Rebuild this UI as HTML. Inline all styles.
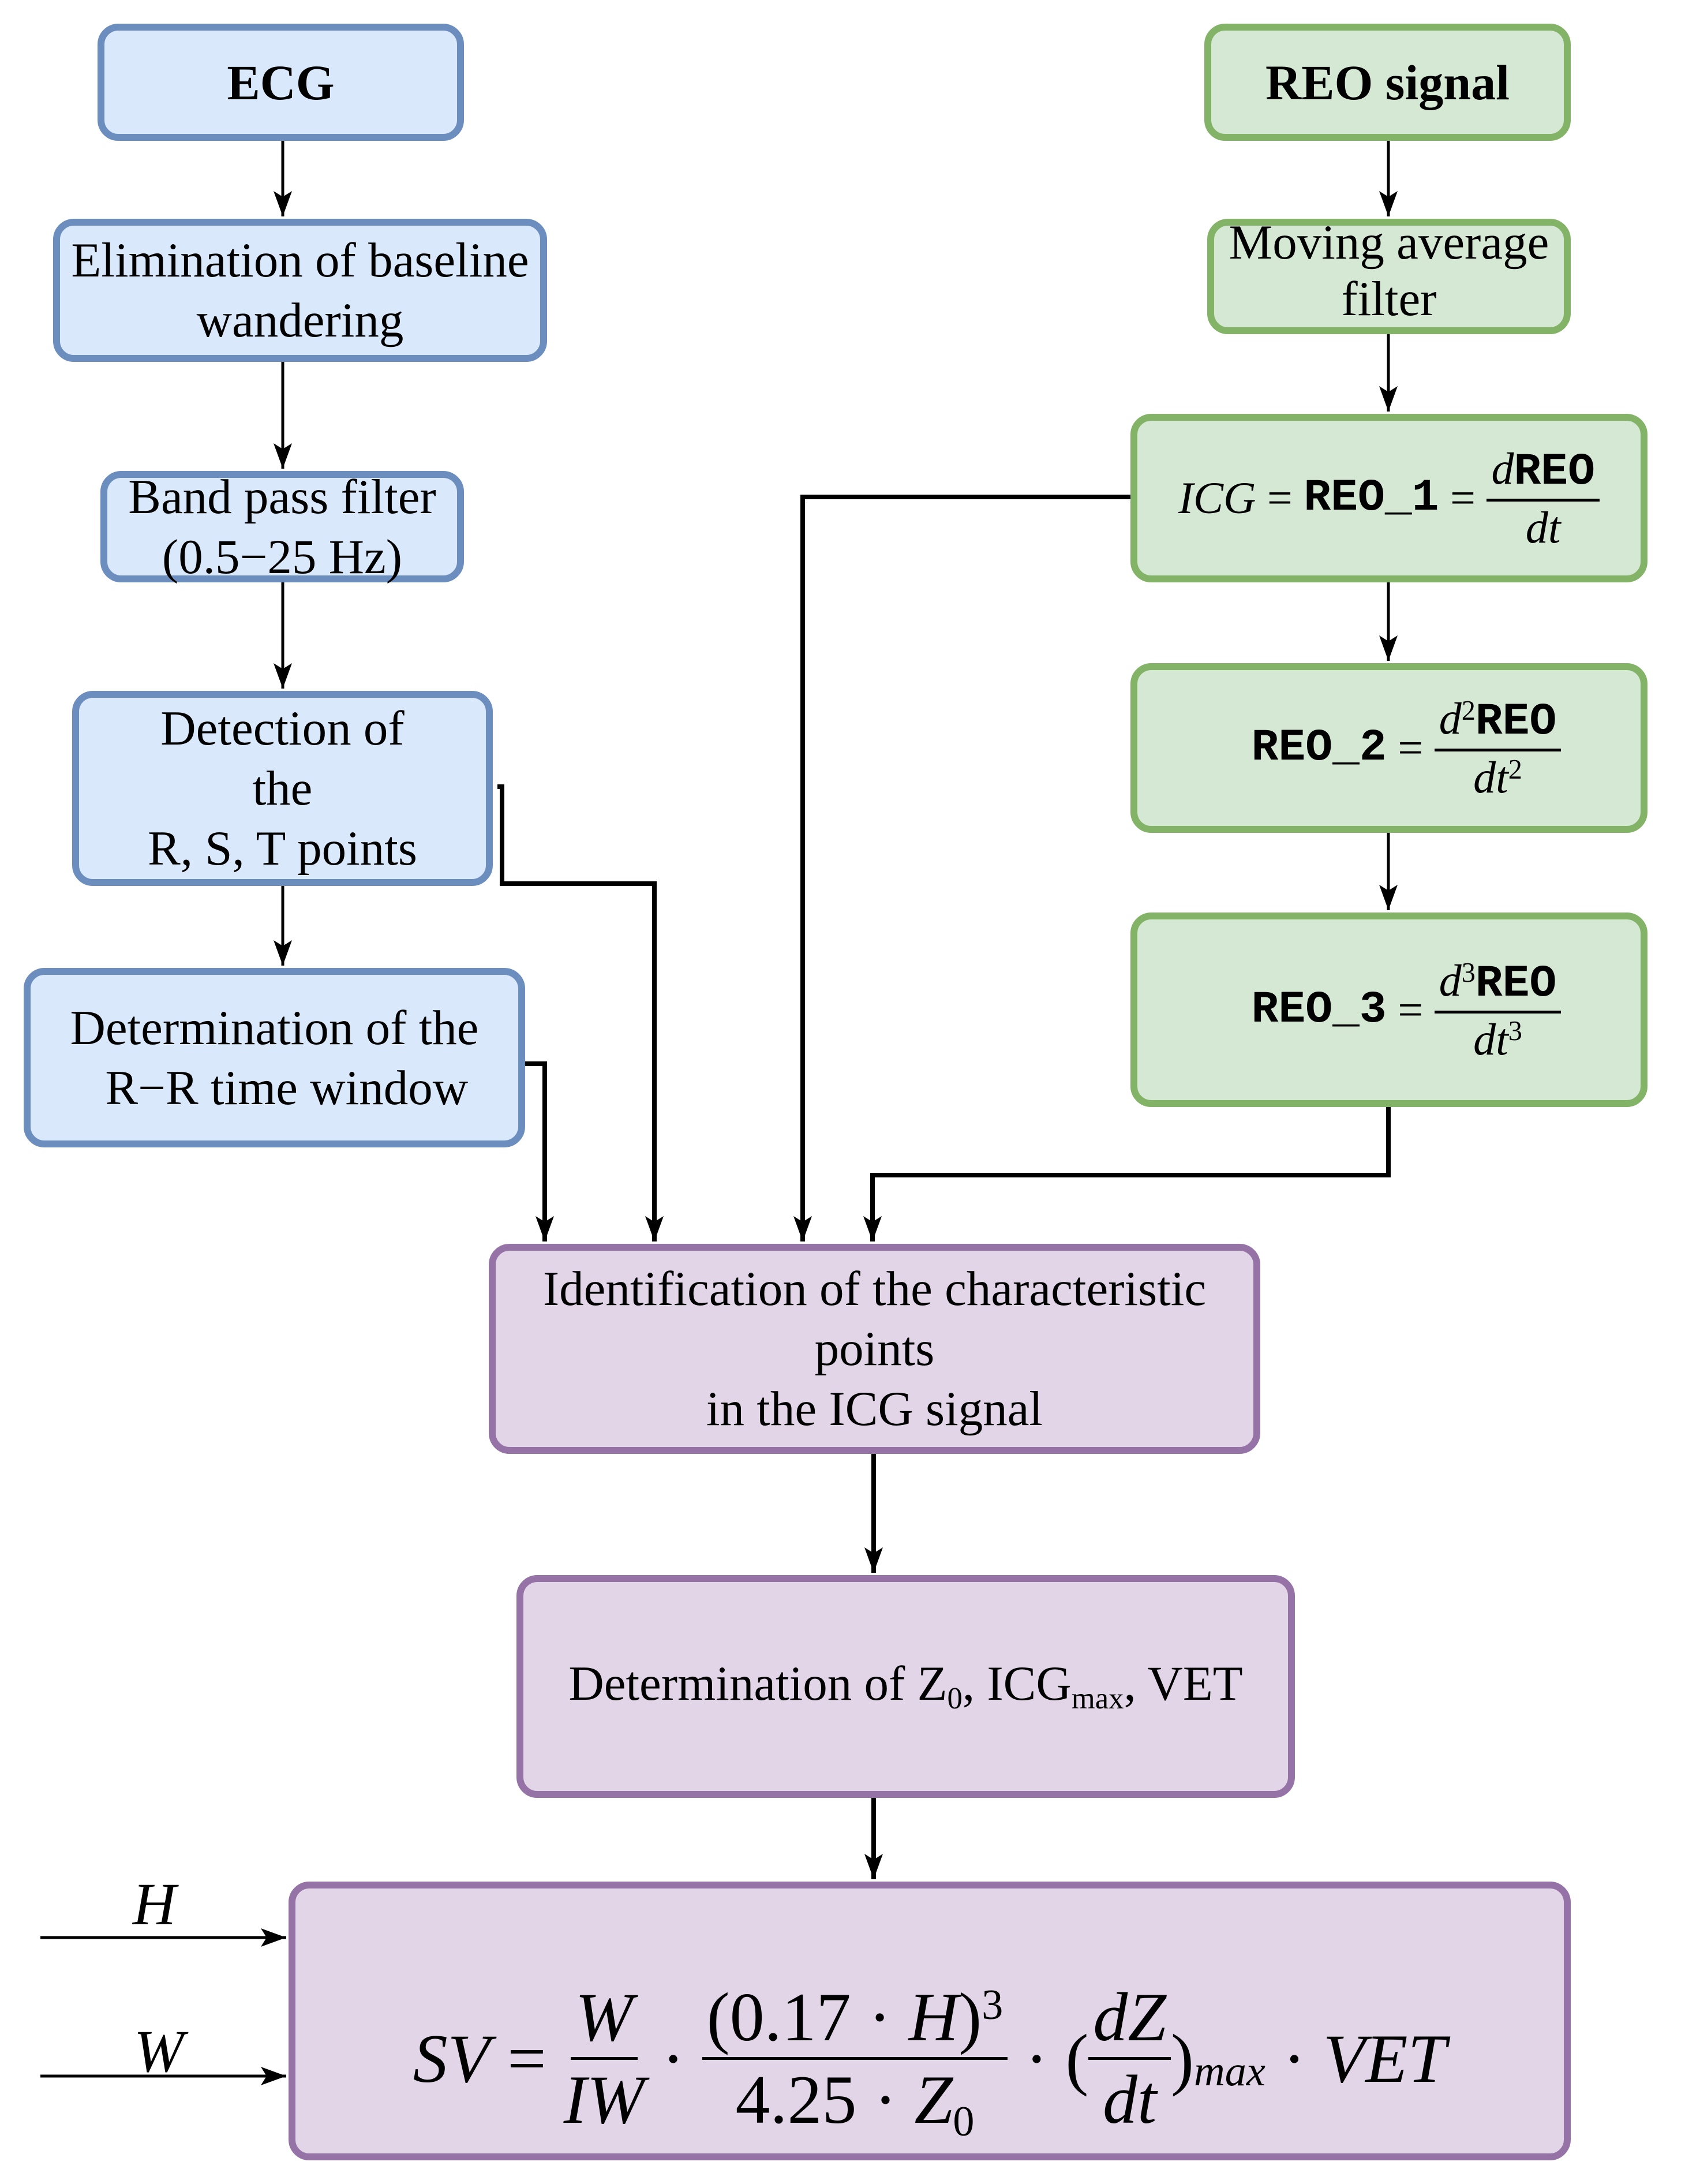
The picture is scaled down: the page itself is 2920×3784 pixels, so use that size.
<!DOCTYPE html>
<html><head><meta charset="utf-8"><style>
html,body{margin:0;padding:0;background:#fff;}
body{width:2920px;height:3784px;position:relative;overflow:hidden;font-family:"Liberation Serif",serif;color:#000;}
.b{position:absolute;box-sizing:border-box;border:12px solid;border-radius:36px;display:flex;align-items:center;justify-content:center;text-align:center;font-size:85px;line-height:104px;}
.bl{background:#dae8fc;border-color:#6c8ebf;}
.gr{background:#d5e8d4;border-color:#82b366;}
.pu{background:#e1d5e7;border-color:#9673a6;}
.m{font-family:"Liberation Mono",monospace;font-weight:bold;}
.i{font-style:italic;}
.fr{display:inline-flex;flex-direction:column;align-items:center;vertical-align:middle;line-height:1.15;}
.fr>span:first-child{border-bottom:5px solid #000;padding:0 8px;}
.sb{font-size:0.62em;position:relative;top:0.3em;}
.sp{font-size:0.62em;position:relative;top:-0.5em;}
svg{position:absolute;left:0;top:0;}
</style></head><body>
<svg width="2920" height="3784">
<defs>
<marker id="a" markerUnits="userSpaceOnUse" markerWidth="50" markerHeight="40" refX="44" refY="16" orient="auto">
<path d="M0,0 L44,16 L0,32 L10,16 Z" fill="#000"/>
</marker>
</defs>
<g stroke="#000" fill="none" stroke-width="5">
<path d="M490,244 V375" marker-end="url(#a)"/>
<path d="M490,627 V812" marker-end="url(#a)"/>
<path d="M490,1009 V1193" marker-end="url(#a)"/>
<path d="M490,1535 V1673" marker-end="url(#a)"/>
<path d="M2406,244 V375" marker-end="url(#a)"/>
<path d="M2406,579 V713" marker-end="url(#a)"/>
<path d="M2406,1009 V1145" marker-end="url(#a)"/>
<path d="M2406,1443 V1577" marker-end="url(#a)"/>
</g>
<g stroke="#000" fill="none" stroke-width="8">
<path d="M862,1363 H870 V1531 H1134 V2151" marker-end="url(#a)"/>
<path d="M910,1843 H944 V2151" marker-end="url(#a)"/>
<path d="M1959,861 H1391 V2151" marker-end="url(#a)"/>
<path d="M2406,1918 V2036 H1512 V2151" marker-end="url(#a)"/>
<path d="M1514,2519 V2725" marker-end="url(#a)"/>
<path d="M1514,3115 V3256" marker-end="url(#a)"/>
</g>
<g stroke="#000" fill="none" stroke-width="5">
<path d="M70,3357 H496" marker-end="url(#a)"/>
<path d="M70,3597 H496" marker-end="url(#a)"/>
</g>
</svg>

<div class="b bl" style="left:169px;top:41px;width:635px;height:203px;font-weight:bold;font-size:86px;">ECG</div>
<div class="b bl" style="left:92px;top:379px;width:856px;height:248px;">Elimination of baseline<br>wandering</div>
<div class="b bl" style="left:174px;top:816px;width:630px;height:193px;">Band pass filter<br>(0.5−25 Hz)</div>
<div class="b bl" style="left:125px;top:1197px;width:729px;height:338px;">Detection of<br>the<br>R, S, T points</div>
<div class="b bl" style="left:41px;top:1677px;width:869px;height:311px;">Determination of the<br>&nbsp;&nbsp;R−R time window</div>

<div class="b gr" style="left:2087px;top:41px;width:635px;height:203px;font-weight:bold;font-size:86px;">REO signal</div>
<div class="b gr" style="left:2092px;top:379px;width:630px;height:200px;line-height:98px;padding-bottom:20px;">Moving average<br>filter</div>
<div class="b gr" style="left:1959px;top:717px;width:896px;height:292px;font-size:78px;white-space:nowrap;"><span class="i">ICG</span>&nbsp;=&nbsp;<span class="m">REO_1</span>&nbsp;=&nbsp;<span class="fr"><span><span class="i">d</span><span class="m">REO</span></span><span class="i">dt</span></span></div>
<div class="b gr" style="left:1959px;top:1149px;width:896px;height:294px;font-size:78px;white-space:nowrap;padding-left:60px;"><span class="m">REO_2</span>&nbsp;=&nbsp;<span class="fr"><span><span class="i">d</span><span class="sp">2</span><span class="m">REO</span></span><span><span class="i">dt</span><span class="sp">2</span></span></span></div>
<div class="b gr" style="left:1959px;top:1581px;width:896px;height:337px;font-size:78px;white-space:nowrap;padding-left:60px;"><span class="m">REO_3</span>&nbsp;=&nbsp;<span class="fr"><span><span class="i">d</span><span class="sp">3</span><span class="m">REO</span></span><span><span class="i">dt</span><span class="sp">3</span></span></span></div>

<div class="b pu" style="left:847px;top:2155px;width:1337px;height:364px;">Identification of the characteristic<br>points<br>in the ICG signal</div>
<div class="b pu" style="left:895px;top:2729px;width:1349px;height:386px;"><span>Determination of Z<span class="sb">0</span>, ICG<span class="sb">max</span>, VET</span></div>
<div class="b pu" style="left:500px;top:3260px;width:2222px;height:483px;font-size:120px;white-space:nowrap;padding-top:130px;">
<span class="i">SV</span>&nbsp;=&nbsp;<span class="fr"><span class="i">W</span><span class="i">IW</span></span>&nbsp;·&nbsp;<span class="fr"><span>(0.17 · <span class="i">H</span>)<span class="sp">3</span></span><span>4.25 · <span class="i">Z</span><span class="sb">0</span></span></span>&nbsp;·&nbsp;(<span class="fr"><span class="i">dZ</span><span class="i">dt</span></span>)<span class="sb i">max</span>&nbsp;·&nbsp;<span class="i">VET</span>
</div>

<div style="position:absolute;left:230px;top:3240px;font-size:104px;font-style:italic;">H</div>
<div style="position:absolute;left:232px;top:3495px;font-size:104px;font-style:italic;">W</div>
</body></html>
